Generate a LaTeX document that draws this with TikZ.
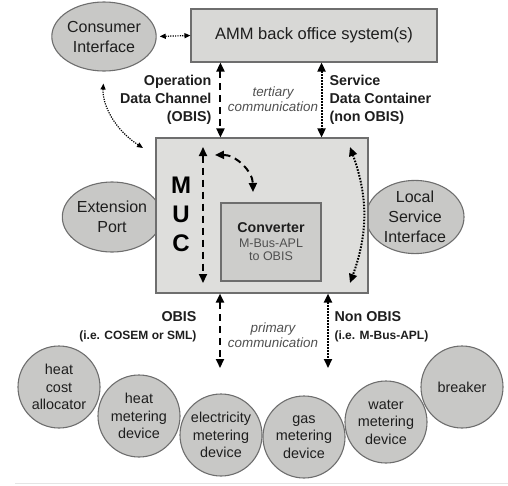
\documentclass[tikz,border=0pt]{standalone}
\usepackage{fontspec}
\setmainfont{Liberation Sans}
\usetikzlibrary{arrows.meta}
\usetikzlibrary{shapes.geometric}

\definecolor{edgegray}{HTML}{6E6E6E}
\definecolor{boxgray}{HTML}{DEDEDC}
\definecolor{ammgray}{HTML}{D8D8D6}
\definecolor{convgray}{HTML}{CDCDCB}
\definecolor{bubblegray}{HTML}{C8C8C6}
\definecolor{commgray}{HTML}{505050}
\definecolor{inkgray}{HTML}{1E1E1E}

\begin{document}
\begin{tikzpicture}[x=1pt,y=-1pt,
    box/.style={draw=edgegray, line width=1.1pt, inner sep=0pt, text=inkgray},
    bubble/.style={ellipse, draw=edgegray, line width=1.1pt, fill=bubblegray, inner sep=0pt,
        align=center, text=inkgray, font=\fontsize{16}{20}\selectfont},
    device/.style={circle, draw=edgegray, line width=1.1pt, fill=bubblegray, minimum size=82pt,
        inner sep=0pt, align=center, text=inkgray, font=\fontsize{14.4}{17.5}\selectfont},
    dasharrow/.style={{Triangle[length=9pt,width=8pt]}-{Triangle[length=9pt,width=8pt]},
        line width=2pt, dash pattern=on 7pt off 5pt},
    dotarrow/.style={{Triangle[length=9pt,width=8pt]}-{Triangle[length=9pt,width=8pt]},
        line width=2pt, dash pattern=on 1.6pt off 1.4pt},
    thindot/.style={{Triangle[length=6pt,width=5pt]}-{Triangle[length=6pt,width=5pt]},
        line width=1.2pt, dash pattern=on 1.2pt off 1.2pt},
    chanlabel/.style={text=inkgray, font=\fontsize{14.3}{18}\bfseries},
    commlabel/.style={text=commgray, align=center, font=\fontsize{13.4}{15}\itshape}]

    \useasboundingbox (0,0) rectangle (508,485);
    \draw[black!10, line width=0.8pt] (15,483) -- (508,483);

    \node[box, fill=ammgray, minimum width=246pt, minimum height=53pt,
        font=\fontsize{16.5}{20}\selectfont] (amm) at (314,35.5) {AMM back office system(s)};
    \node[bubble, minimum width=100pt, minimum height=69pt] (ci) at (104,36.5) {Consumer\\Interface};

    \node[bubble, minimum width=98pt, minimum height=70pt] (ep) at (112,217) {Extension\\Port};
    \node[bubble, minimum width=98pt, minimum height=70pt] (lsi) at (415,217) {Local\\Service\\Interface};

    \node[box, fill=boxgray, minimum width=212pt, minimum height=155pt] (muc) at (262,215.5) {};
    \node[box, fill=convgray, minimum width=100pt, minimum height=78pt, align=center,
        font=\fontsize{12.5}{13.5}\selectfont] (conv) at (271,242)
        {{\fontsize{14.2}{17}\bfseries Converter}\\[1pt]
         \textcolor{commgray}{M-Bus-APL}\\
         \textcolor{commgray}{to OBIS}};
    \node[text=black, align=center, font=\fontsize{24}{29}\bfseries] (mucname) at (181,214) {M\\U\\C};

    \node[chanlabel, align=right, anchor=east] (odc) at (215,100) {Operation\\Data Channel\\(OBIS)};
    \node[chanlabel, align=left, anchor=west] (sdc) at (326,100) {Service\\Data Container\\(non OBIS)};
    \node[commlabel] (tertiary) at (273,99.5) {tertiary\\communication};

    \node[chanlabel, align=right, anchor=east] (obis) at (200,327)
        {OBIS\\{\fontsize{12}{16}\selectfont (i.e. COSEM or SML)}};
    \node[chanlabel, align=left, anchor=west] (nonobis) at (331,327)
        {Non OBIS\\{\fontsize{12}{16}\selectfont (i.e. M-Bus-APL)}};
    \node[commlabel] (primary) at (273,335.5) {primary\\communication};

    \node[device] (hca) at (59,387) {heat\\cost\\allocator};
    \node[device] (hmd) at (139,416) {heat\\metering\\device};
    \node[device] (emd) at (221,435) {electricity\\metering\\device};
    \node[device] (gmd) at (304,437) {gas\\metering\\device};
    \node[device] (wmd) at (386,422) {water\\metering\\device};
    \node[device] (brk) at (462,387) {breaker};

    \coordinate (obisend) at (220,368);
    \coordinate (nonobisend) at (328,368);
    \coordinate (muctop) at (203,147);
    \coordinate (mucbot) at (203,283);
    \coordinate (convin) at (215,155);
    \coordinate (convout) at (253,192);
    \coordinate (lsitop) at (350,147);
    \coordinate (lsibot) at (350,283);
    \coordinate (ciend) at (143,148);

    \draw[thindot, shorten <=3pt] (ci.east) -- (amm.west);
    \draw[thindot, shorten <=12pt] (ci.south) to[bend right=30] (ciend);

    \draw[dasharrow] (amm.south -| conv.west) -- (muc.north -| conv.west);
    \draw[dotarrow] (amm.south -| conv.east) -- (muc.north -| conv.east);

    \draw[dasharrow] (muctop) -- (mucbot);
    \draw[dasharrow] (convin) to[bend left=45] (convout);
    \draw[dotarrow] (lsitop) to[bend left=20] (lsibot);

    \draw[dasharrow] (muc.south -| obisend) -- (obisend);
    \draw[dotarrow] (muc.south -| nonobisend) -- (nonobisend);
\end{tikzpicture}
\end{document}
